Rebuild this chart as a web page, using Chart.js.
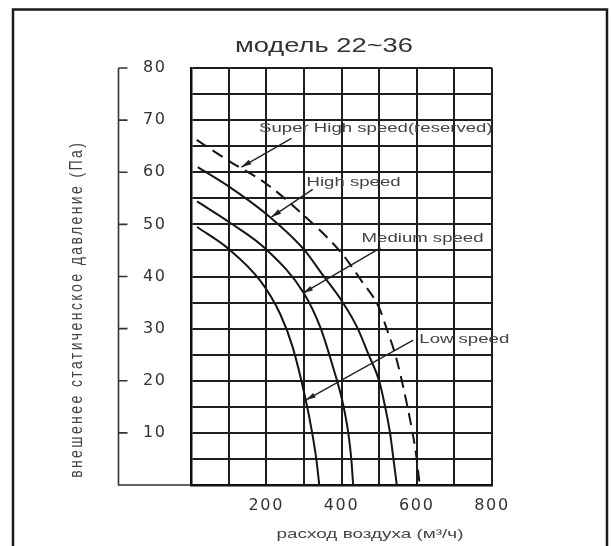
<!DOCTYPE html>
<html>
<head>
<meta charset="utf-8">
<script src="https://cdn.jsdelivr.net/npm/chart.js@4"></script>
<style>
  html, body { margin: 0; padding: 0; background: #fff; }
  canvas { display: block; }
</style>
</head>
<body>
<canvas id="fanChart" width="611" height="546"></canvas>
<script>
// Fan curves: air flow (m3/h) vs external static pressure (Pa)
const superFlow = [15, 100, 200, 300, 400, 450, 500, 520, 545, 565, 585, 597, 608];
const superPressure = [66.2, 62.2, 57.8, 51.7, 44.5, 39.5, 34, 30, 24.5, 18.5, 11.5, 6.5, 0];

const highFlow = [18, 100, 200, 300, 350, 400, 442, 472, 500, 516, 529, 538, 547];
const highPressure = [61, 57.3, 52, 45.2, 40.3, 35.4, 30.2, 25, 20, 15, 10, 5, 0];

const mediumFlow = [16, 100, 200, 300, 344, 378, 402, 418, 426, 431];
const mediumPressure = [54.4, 50.5, 45.2, 36.8, 30.2, 22.5, 16.2, 10, 5, 0];

const lowFlow = [16, 100, 184, 237, 270, 305, 322, 333, 341];
const lowPressure = [49.5, 45.3, 39.2, 32.8, 26.5, 16.3, 10, 5, 0];

const flowTicks = [200, 400, 600, 800];
const pressureTicks = [10, 20, 30, 40, 50, 60, 70, 80];

const FONT = "'Liberation Sans', Arial, Helvetica, sans-serif";
const TICK_FONT = "'DejaVu Sans', Verdana, sans-serif";
Chart.defaults.font.family = FONT;

function points(flow, pressure) {
  return flow.map((x, i) => ({ x: x, y: pressure[i] }));
}

// text label + arrow, given in data units (flow, pressure)
const notes = [
  { text: 'Super High speed(reserved)', at: [181, 68.4], from: [267, 66.5], to: [134, 61] },
  { text: 'High speed', at: [307, 58.1], from: [323.5, 56.7], to: [213.6, 51.4] },
  { text: 'Medium speed', at: [453.4, 47.25], from: [503.6, 45.5], to: [297.8, 36.8] },
  { text: 'Low speed', at: [606.8, 27.9], from: [590.8, 27.8], to: [305, 16.3] }
];

// the sheet's lettering is drawn wide, so stretch it sideways
function wideText(ctx, text, x, y, size, stretch, align) {
  ctx.font = size + 'px ' + FONT;
  ctx.letterSpacing = '0px';
  const w = ctx.measureText(text).width * stretch;
  ctx.save();
  ctx.translate(align === 'center' ? x - w / 2 : x, y);
  ctx.scale(stretch, 1);
  ctx.textAlign = 'left';
  ctx.textBaseline = 'middle';
  ctx.fillText(text, 0, 0);
  ctx.restore();
}

const sheetPlugin = {
  id: 'sheet',
  beforeDraw(chart) {
    chart.ctx.letterSpacing = '1.6px';
  },
  afterDraw(chart) {
    const ctx = chart.ctx;
    const xs = chart.scales.x;
    const ys = chart.scales.y;
    const area = chart.chartArea;
    ctx.save();
    ctx.letterSpacing = '0px';

    // outer frame (open at the bottom)
    ctx.strokeStyle = '#1a1a1a';
    ctx.lineWidth = 2.5;
    ctx.beginPath();
    ctx.moveTo(13, 546);
    ctx.lineTo(13, 9.5);
    ctx.lineTo(607, 9.5);
    ctx.lineTo(607, 546);
    ctx.stroke();

    // separate pressure axis with ticks
    const ax = 118.5;
    ctx.strokeStyle = '#333';
    ctx.lineWidth = 1.6;
    ctx.beginPath();
    ctx.moveTo(ax, ys.getPixelForValue(80));
    ctx.lineTo(ax, ys.getPixelForValue(0));
    ctx.lineTo(area.left, ys.getPixelForValue(0));
    pressureTicks.forEach(v => {
      const py = ys.getPixelForValue(v);
      ctx.moveTo(ax, py);
      ctx.lineTo(ax + 9, py);
    });
    ctx.stroke();

    // arrows and labels
    ctx.strokeStyle = '#222';
    ctx.fillStyle = '#222';
    ctx.lineWidth = 1.4;
    notes.forEach(n => {
      const x1 = xs.getPixelForValue(n.from[0]), y1 = ys.getPixelForValue(n.from[1]);
      const x2 = xs.getPixelForValue(n.to[0]), y2 = ys.getPixelForValue(n.to[1]);
      const a = Math.atan2(y2 - y1, x2 - x1);
      ctx.beginPath();
      ctx.moveTo(x1, y1);
      ctx.lineTo(x2, y2);
      ctx.stroke();
      ctx.beginPath();
      ctx.moveTo(x2, y2);
      ctx.lineTo(x2 - 10 * Math.cos(a) + 2.6 * Math.sin(a), y2 - 10 * Math.sin(a) - 2.6 * Math.cos(a));
      ctx.lineTo(x2 - 10 * Math.cos(a) - 2.6 * Math.sin(a), y2 - 10 * Math.sin(a) + 2.6 * Math.cos(a));
      ctx.closePath();
      ctx.fill();
    });
    ctx.fillStyle = '#444';
    notes.forEach(n => {
      wideText(ctx, n.text, xs.getPixelForValue(n.at[0]), ys.getPixelForValue(n.at[1]), 13, 1.43, 'left');
    });

    // titles
    ctx.fillStyle = '#333';
    wideText(ctx, 'модель 22~36', 324, 47, 19.5, 1.4, 'center');
    ctx.fillStyle = '#444';
    wideText(ctx, 'расход воздуха (м³/ч)', 370, 534.5, 13.5, 1.4, 'center');

    // rotated pressure title: glyphs widened across, spaced along
    ctx.translate(76.7, 310.5);
    ctx.rotate(-Math.PI / 2);
    ctx.scale(1, 1.25);
    const yTitle = 'внешенее статиченское давление (Па)';
    ctx.font = '14px ' + FONT;
    const tw = ctx.measureText(yTitle).width + (yTitle.length - 1) * 2.4;
    ctx.letterSpacing = '2.4px';
    ctx.textAlign = 'left';
    ctx.textBaseline = 'middle';
    ctx.fillText(yTitle, -tw / 2, 0);

    ctx.restore();
    ctx.letterSpacing = '0px';
  }
};

const curve = (label, flow, pressure, dash) => ({
  label: label,
  data: points(flow, pressure),
  borderColor: '#151515',
  borderWidth: 2,
  borderDash: dash,
  pointRadius: 0,
  fill: false,
  cubicInterpolationMode: 'monotone'
});

new Chart(document.getElementById('fanChart'), {
  type: 'line',
  data: {
    datasets: [
      curve('Super High speed(reserved)', superFlow, superPressure, [12, 7]),
      curve('High speed', highFlow, highPressure, []),
      curve('Medium speed', mediumFlow, mediumPressure, []),
      curve('Low speed', lowFlow, lowPressure, [])
    ]
  },
  options: {
    responsive: false,
    animation: false,
    devicePixelRatio: 1,
    layout: { padding: { left: 0, right: 119, top: 68, bottom: 0 } },
    plugins: {
      legend: { display: false },
      tooltip: { enabled: false },
      title: { display: false }
    },
    scales: {
      x: {
        type: 'linear',
        min: 0,
        max: 800,
        afterFit: s => { s.height = 61; },
        ticks: {
          stepSize: 100,
          autoSkip: false,
          maxRotation: 0,
          padding: 11,
          color: '#333',
          font: { family: TICK_FONT, size: 16 },
          callback: v => flowTicks.includes(v) ? String(v) : ''
        },
        grid: { color: '#1e1e1e', lineWidth: 2, drawTicks: false },
        border: { color: '#111', width: 2.5 }
      },
      y: {
        min: 0,
        max: 80,
        afterFit: s => { s.width = 191; },
        ticks: {
          stepSize: 5,
          maxTicksLimit: 20,
          autoSkip: false,
          padding: 24.4,
          color: '#333',
          font: { family: TICK_FONT, size: 16 },
          callback: v => pressureTicks.includes(v) ? String(v) : ''
        },
        grid: { color: '#1e1e1e', lineWidth: 2, drawTicks: false },
        border: { color: '#111', width: 2.5 }
      }
    }
  },
  plugins: [sheetPlugin]
});
</script>
</body>
</html>
